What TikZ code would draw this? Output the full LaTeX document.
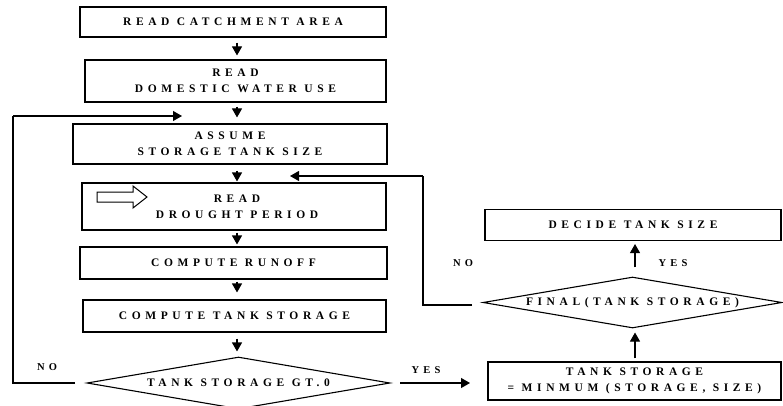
\documentclass[tikz,border=0pt]{standalone}
\usepackage{fontspec}
\usetikzlibrary{arrows.meta,shapes.geometric,calc}
\newfontfamily\lsfont[LetterSpace=40]{Liberation Serif}
\begin{document}
\begin{tikzpicture}[x=1pt,y=-1pt,
  every node/.style={font={\lsfont\bfseries\fontsize{11.5}{16}\selectfont},align=center,inner sep=0pt},
  pbox/.style={draw,line width=1.1pt,rectangle},
  dbox/.style={draw,line width=1.1pt,diamond,aspect=5.8},
  conn/.style={line width=1.1pt},
  arr/.style={conn,-{Triangle[width=10pt,length=9pt]}},
  lbl/.style={font={\lsfont\bfseries\fontsize{10.5}{12}\selectfont}}]
\useasboundingbox (0,0) rectangle (783,406);
% boxes
\node[pbox,minimum width=306pt,minimum height=30pt] (b1) at (233,22) {READ CATCHMENT AREA};
\node[pbox,minimum width=301pt,minimum height=42pt] (b2) at (235.5,81) {READ\\DOMESTIC WATER USE};
\node[pbox,minimum width=314pt,minimum height=40pt] (b3) at (230,144) {ASSUME\\STORAGE TANK SIZE};
\node[pbox,minimum width=304pt,minimum height=47pt] (b4) at (234,206.5) {};
\node (b4t) at (237,206.5) {READ\\DROUGHT PERIOD};
\node[pbox,minimum width=307pt,minimum height=32pt] (b5) at (233.5,263) {COMPUTE RUNOFF};
\node[pbox,minimum width=303pt,minimum height=32pt] (b6) at (234.5,316) {COMPUTE TANK STORAGE};
\node[dbox,minimum width=303pt,minimum height=52pt] (d1) at (238.5,383) {TANK STORAGE GT.0};
\node[pbox,minimum width=296pt,minimum height=31pt] (b7) at (633,225) {DECIDE TANK SIZE};
\node[dbox,minimum width=299pt,minimum height=51pt] (d2) at (632.5,302.5) {FINAL(TANK STORAGE)};
\node[pbox,minimum width=293pt,minimum height=38pt] (b8) at (634.5,381) {TANK STORAGE\\= MINMUM (STORAGE, SIZE)};
% hollow arrow inside b4
\draw[line width=1pt] (97,192) -- (133,192) -- (133,186) -- (147,197) -- (133,208) -- (133,202) -- (97,202) -- cycle;
% column for down arrows
\coordinate (col) at (237,0);
\coordinate (colr) at (635,0);
\draw[arr,shorten <=5pt,shorten >=4pt] (b1.south -| col) -- (b2.north -| col);
\draw[arr,shorten <=4pt,shorten >=6pt] (b2.south -| col) -- (b3.north -| col);
\draw[arr,shorten <=6pt,shorten >=1pt] (b3.south -| col) -- (b4.north -| col);
\draw[arr,shorten <=2pt,shorten >=2pt] (b4.south -| col) -- (b5.north -| col);
\draw[arr,shorten <=2pt,shorten >=7pt] (b5.south -| col) -- (b6.north -| col);
\draw[arr,shorten <=6pt,shorten >=5pt] (b6.south -| col) -- (d1.north -| col);
% NO loop left
\coordinate (noA) at (75,383);
\coordinate (noB) at (13,116);
\coordinate (noC) at (182,116);
\draw[conn] (noA) -| (noB);
\draw[arr] (noB) -- (noC);
\node[lbl] (no1) at (47,367) {NO};
% YES right
\coordinate (yA) at (400,383);
\coordinate (yB) at (470,383);
\draw[arr] (yA) -- (yB);
\node[lbl] (yes1) at (426,370) {YES};
% up arrows on right
\draw[arr,shorten <=3pt,shorten >=4pt] (b8.north -| colr) -- (d2.south -| colr);
\draw[arr,shorten <=9pt,shorten >=3pt] (d2.north -| colr) -- (b7.south -| colr);
\node[lbl] (yes2) at (673,263) {YES};
\node[lbl] (no2) at (463,263) {NO};
% NO loop from d2
\coordinate (nA) at (472,305);
\coordinate (nB) at (423,176);
\coordinate (nC) at (290,176);
\draw[conn] (nA) -| (nB);
\draw[arr] (nB) -- (nC);
\end{tikzpicture}
\end{document}
